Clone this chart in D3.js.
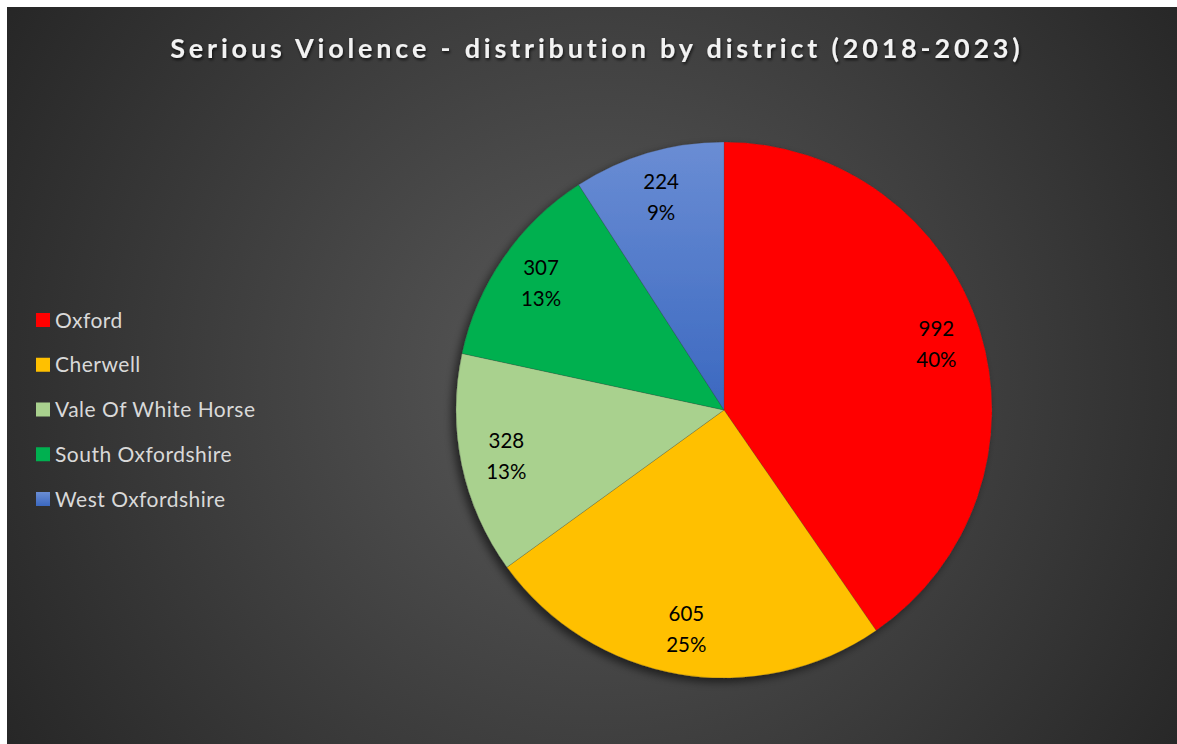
<!DOCTYPE html>
<html>
<head>
<meta charset="utf-8">
<script src="https://cdn.jsdelivr.net/npm/d3@7"></script>
<style>
  html, body { margin: 0; padding: 0; background: #ffffff; }
  svg { display: block; }
</style>
</head>
<body>
<svg id="chart" width="1177" height="744"></svg>
<script>
const categories = ["Oxford", "Cherwell", "Vale Of White Horse", "South Oxfordshire", "West Oxfordshire"];
const values = [992, 605, 328, 307, 224];
const colors = ["#FF0000", "#FFC000", "#A9D18E", "#00B050", "#4472C4"];
const title = "Serious Violence - distribution by district (2018-2023)";

const W = 1177, H = 744;
const svg = d3.select("#chart");
const defs = svg.append("defs");

const bg = defs.append("radialGradient").attr("id", "bg")
  .attr("gradientUnits", "userSpaceOnUse")
  .attr("cx", 600).attr("cy", 380).attr("r", 720);
bg.append("stop").attr("offset", 0).attr("stop-color", "#5a5a5a");
bg.append("stop").attr("offset", 1).attr("stop-color", "#252525");

const blue = defs.append("linearGradient").attr("id", "blueGrad")
  .attr("x1", 0).attr("y1", 0).attr("x2", 0).attr("y2", 1);
blue.append("stop").attr("offset", 0).attr("stop-color", "#6a8dd4");
blue.append("stop").attr("offset", 1).attr("stop-color", "#3b68c0");

const sh = defs.append("filter").attr("id", "shadow")
  .attr("x", "-20%").attr("y", "-20%").attr("width", "140%").attr("height", "140%");
sh.append("feDropShadow").attr("dx", -4).attr("dy", 4).attr("stdDeviation", 4)
  .attr("flood-color", "#000").attr("flood-opacity", 0.55);

const tsh = defs.append("filter").attr("id", "tshadow")
  .attr("x", "-10%").attr("y", "-50%").attr("width", "120%").attr("height", "200%");
tsh.append("feDropShadow").attr("dx", 1).attr("dy", 2).attr("stdDeviation", 1.5)
  .attr("flood-color", "#000").attr("flood-opacity", 0.7);

svg.append("rect").attr("x", 7).attr("y", 7).attr("width", W - 7).attr("height", H - 7)
  .attr("fill", "url(#bg)");

// Title
const t = svg.append("text")
  .attr("x", 595).attr("y", 58)
  .attr("text-anchor", "middle")
  .attr("font-family", "Lato, 'Open Sans', sans-serif")
  .attr("font-weight", "bold")
  .attr("font-size", 27)
  .attr("fill", "#f2f2f2")
  .attr("filter", "url(#tshadow)")
  .text(title);
{
  const targetW = 850;
  const n = title.length;
  const w0 = t.node().getComputedTextLength();
  const ls = (targetW - w0) / (n - 1);
  t.attr("letter-spacing", ls + "px").attr("x", 595 + ls / 2);
}

// Pie
const cx = 724, cy = 410, R = 268;
const total = d3.sum(values);
const data = categories.map((c, i) => ({ name: c, value: values[i], color: i === 4 ? "url(#blueGrad)" : colors[i] }));
const pie = d3.pie().value(d => d.value).sort(null);
const arcs = pie(data);
const arc = d3.arc().innerRadius(0).outerRadius(R);
const labelArc = d3.arc().innerRadius(R * 0.83).outerRadius(R * 0.83);

const g = svg.append("g").attr("transform", `translate(${cx},${cy})`);
g.append("g").attr("filter", "url(#shadow)")
  .selectAll("path").data(arcs).join("path")
  .attr("d", arc)
  .attr("fill", d => d.data.color)
  .attr("stroke", "rgba(60,60,60,0.35)")
  .attr("stroke-width", 0.6);

const lab = g.selectAll("text.lab").data(arcs).join("text")
  .attr("class", "lab")
  .attr("transform", d => `translate(${labelArc.centroid(d)})`)
  .attr("text-anchor", "middle")
  .attr("font-family", "Lato, 'Open Sans', sans-serif")
  .attr("font-size", 20.5)
  .attr("fill", "#000");
lab.append("tspan").attr("x", 0).attr("y", -8).text(d => d.data.value);
lab.append("tspan").attr("x", 0).attr("y", 23).text(d => Math.round(d.data.value / total * 100) + "%");

// Legend
const leg = svg.append("g");
const ys = d3.scalePoint().domain(categories).range([320, 499]);
const items = leg.selectAll("g").data(categories).join("g")
  .attr("transform", d => `translate(36,${ys(d)})`);
items.append("rect").attr("x", 0).attr("y", -7).attr("width", 14).attr("height", 14)
  .attr("fill", (d, i) => i === 4 ? "url(#blueGrad)" : colors[i]);
items.append("text").attr("x", 19).attr("y", 7.5)
  .attr("font-family", "Lato, 'Open Sans', sans-serif")
  .attr("font-size", 21)
  .attr("letter-spacing", "0.5px")
  .attr("fill", "#d9d9d9")
  .text(d => d);
</script>
</body>
</html>
